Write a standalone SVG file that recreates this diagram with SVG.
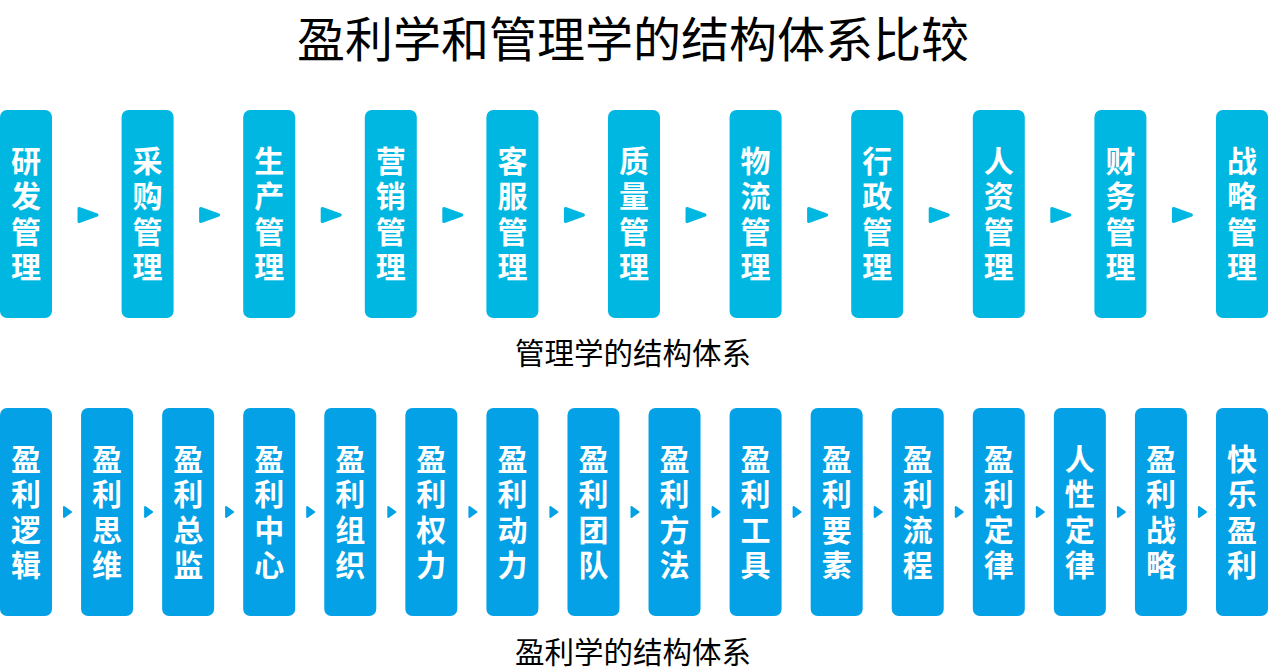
<svg xmlns="http://www.w3.org/2000/svg" width="1269" height="672" viewBox="0 0 1269 672">
<style>
text{font-family:"Noto Sans CJK SC","Noto Sans",sans-serif;}
.title{font-size:48px;fill:#000;text-anchor:middle;}
.cap{font-size:29.5px;fill:#000;text-anchor:middle;}
.bt{font-size:30px;font-weight:bold;fill:#fff;text-anchor:middle;}
.top rect{fill:#00B7E1;}
.bot rect{fill:#04A1E6;}
.arrT{fill:#00B7E1;stroke:#00B7E1;stroke-width:3;stroke-linejoin:round;}
.arrB{fill:#04A1E6;stroke:#04A1E6;stroke-width:2;stroke-linejoin:round;}
</style>
<rect width="1269" height="672" fill="#fff"/>
<text class="title" x="633" y="57">盈利学和管理学的结构体系比较</text>

<g id="connectors">
<g id="top-arrows">
<path class="arrT" d="M79,208.5 L97,215 L79,221.5 Z"/>
<path class="arrT" d="M200.6,208.5 L218.6,215 L200.6,221.5 Z"/>
<path class="arrT" d="M322.2,208.5 L340.2,215 L322.2,221.5 Z"/>
<path class="arrT" d="M443.8,208.5 L461.8,215 L443.8,221.5 Z"/>
<path class="arrT" d="M565.4,208.5 L583.4,215 L565.4,221.5 Z"/>
<path class="arrT" d="M687,208.5 L705,215 L687,221.5 Z"/>
<path class="arrT" d="M808.6,208.5 L826.6,215 L808.6,221.5 Z"/>
<path class="arrT" d="M930.2,208.5 L948.2,215 L930.2,221.5 Z"/>
<path class="arrT" d="M1051.8,208.5 L1069.8,215 L1051.8,221.5 Z"/>
<path class="arrT" d="M1173.4,208.5 L1191.4,215 L1173.4,221.5 Z"/>
</g>
<g id="bottom-arrows">
<path class="arrB" d="M64,507 L71,512 L64,517 Z"/>
<path class="arrB" d="M145.1,507 L152.1,512 L145.1,517 Z"/>
<path class="arrB" d="M226.1,507 L233.1,512 L226.1,517 Z"/>
<path class="arrB" d="M307.2,507 L314.2,512 L307.2,517 Z"/>
<path class="arrB" d="M388.3,507 L395.3,512 L388.3,517 Z"/>
<path class="arrB" d="M469.4,507 L476.4,512 L469.4,517 Z"/>
<path class="arrB" d="M550.4,507 L557.4,512 L550.4,517 Z"/>
<path class="arrB" d="M631.5,507 L638.5,512 L631.5,517 Z"/>
<path class="arrB" d="M712.6,507 L719.6,512 L712.6,517 Z"/>
<path class="arrB" d="M793.6,507 L800.6,512 L793.6,517 Z"/>
<path class="arrB" d="M874.7,507 L881.7,512 L874.7,517 Z"/>
<path class="arrB" d="M955.8,507 L962.8,512 L955.8,517 Z"/>
<path class="arrB" d="M1036.8,507 L1043.8,512 L1036.8,517 Z"/>
<path class="arrB" d="M1117.9,507 L1124.9,512 L1117.9,517 Z"/>
<path class="arrB" d="M1199,507 L1206,512 L1199,517 Z"/>
</g>
</g>

<g class="top">
<g id="t1"><rect x="0" y="110" width="52" height="208" rx="7"/><text class="bt"><tspan x="26" y="171.5">研</tspan><tspan x="26" y="207">发</tspan><tspan x="26" y="242.5">管</tspan><tspan x="26" y="278">理</tspan></text></g>
<g id="t2"><rect x="121.6" y="110" width="52" height="208" rx="7"/><text class="bt"><tspan x="147.6" y="171.5">采</tspan><tspan x="147.6" y="207">购</tspan><tspan x="147.6" y="242.5">管</tspan><tspan x="147.6" y="278">理</tspan></text></g>
<g id="t3"><rect x="243.2" y="110" width="52" height="208" rx="7"/><text class="bt"><tspan x="269.2" y="171.5">生</tspan><tspan x="269.2" y="207">产</tspan><tspan x="269.2" y="242.5">管</tspan><tspan x="269.2" y="278">理</tspan></text></g>
<g id="t4"><rect x="364.8" y="110" width="52" height="208" rx="7"/><text class="bt"><tspan x="390.8" y="171.5">营</tspan><tspan x="390.8" y="207">销</tspan><tspan x="390.8" y="242.5">管</tspan><tspan x="390.8" y="278">理</tspan></text></g>
<g id="t5"><rect x="486.4" y="110" width="52" height="208" rx="7"/><text class="bt"><tspan x="512.4" y="171.5">客</tspan><tspan x="512.4" y="207">服</tspan><tspan x="512.4" y="242.5">管</tspan><tspan x="512.4" y="278">理</tspan></text></g>
<g id="t6"><rect x="608" y="110" width="52" height="208" rx="7"/><text class="bt"><tspan x="634" y="171.5">质</tspan><tspan x="634" y="207">量</tspan><tspan x="634" y="242.5">管</tspan><tspan x="634" y="278">理</tspan></text></g>
<g id="t7"><rect x="729.6" y="110" width="52" height="208" rx="7"/><text class="bt"><tspan x="755.6" y="171.5">物</tspan><tspan x="755.6" y="207">流</tspan><tspan x="755.6" y="242.5">管</tspan><tspan x="755.6" y="278">理</tspan></text></g>
<g id="t8"><rect x="851.2" y="110" width="52" height="208" rx="7"/><text class="bt"><tspan x="877.2" y="171.5">行</tspan><tspan x="877.2" y="207">政</tspan><tspan x="877.2" y="242.5">管</tspan><tspan x="877.2" y="278">理</tspan></text></g>
<g id="t9"><rect x="972.8" y="110" width="52" height="208" rx="7"/><text class="bt"><tspan x="998.8" y="171.5">人</tspan><tspan x="998.8" y="207">资</tspan><tspan x="998.8" y="242.5">管</tspan><tspan x="998.8" y="278">理</tspan></text></g>
<g id="t10"><rect x="1094.4" y="110" width="52" height="208" rx="7"/><text class="bt"><tspan x="1120.4" y="171.5">财</tspan><tspan x="1120.4" y="207">务</tspan><tspan x="1120.4" y="242.5">管</tspan><tspan x="1120.4" y="278">理</tspan></text></g>
<g id="t11"><rect x="1216" y="110" width="52" height="208" rx="7"/><text class="bt"><tspan x="1242" y="171.5">战</tspan><tspan x="1242" y="207">略</tspan><tspan x="1242" y="242.5">管</tspan><tspan x="1242" y="278">理</tspan></text></g>
</g>
<text class="cap" x="633" y="364">管理学的结构体系</text>

<g class="bot">
<g id="b1"><rect x="0" y="408" width="52" height="208" rx="7"/><text class="bt"><tspan x="26" y="469.5">盈</tspan><tspan x="26" y="505">利</tspan><tspan x="26" y="540.5">逻</tspan><tspan x="26" y="576">辑</tspan></text></g>
<g id="b2"><rect x="81.07" y="408" width="52" height="208" rx="7"/><text class="bt"><tspan x="107.07" y="469.5">盈</tspan><tspan x="107.07" y="505">利</tspan><tspan x="107.07" y="540.5">思</tspan><tspan x="107.07" y="576">维</tspan></text></g>
<g id="b3"><rect x="162.13" y="408" width="52" height="208" rx="7"/><text class="bt"><tspan x="188.13" y="469.5">盈</tspan><tspan x="188.13" y="505">利</tspan><tspan x="188.13" y="540.5">总</tspan><tspan x="188.13" y="576">监</tspan></text></g>
<g id="b4"><rect x="243.2" y="408" width="52" height="208" rx="7"/><text class="bt"><tspan x="269.2" y="469.5">盈</tspan><tspan x="269.2" y="505">利</tspan><tspan x="269.2" y="540.5">中</tspan><tspan x="269.2" y="576">心</tspan></text></g>
<g id="b5"><rect x="324.27" y="408" width="52" height="208" rx="7"/><text class="bt"><tspan x="350.27" y="469.5">盈</tspan><tspan x="350.27" y="505">利</tspan><tspan x="350.27" y="540.5">组</tspan><tspan x="350.27" y="576">织</tspan></text></g>
<g id="b6"><rect x="405.33" y="408" width="52" height="208" rx="7"/><text class="bt"><tspan x="431.33" y="469.5">盈</tspan><tspan x="431.33" y="505">利</tspan><tspan x="431.33" y="540.5">权</tspan><tspan x="431.33" y="576">力</tspan></text></g>
<g id="b7"><rect x="486.4" y="408" width="52" height="208" rx="7"/><text class="bt"><tspan x="512.4" y="469.5">盈</tspan><tspan x="512.4" y="505">利</tspan><tspan x="512.4" y="540.5">动</tspan><tspan x="512.4" y="576">力</tspan></text></g>
<g id="b8"><rect x="567.47" y="408" width="52" height="208" rx="7"/><text class="bt"><tspan x="593.47" y="469.5">盈</tspan><tspan x="593.47" y="505">利</tspan><tspan x="593.47" y="540.5">团</tspan><tspan x="593.47" y="576">队</tspan></text></g>
<g id="b9"><rect x="648.53" y="408" width="52" height="208" rx="7"/><text class="bt"><tspan x="674.53" y="469.5">盈</tspan><tspan x="674.53" y="505">利</tspan><tspan x="674.53" y="540.5">方</tspan><tspan x="674.53" y="576">法</tspan></text></g>
<g id="b10"><rect x="729.6" y="408" width="52" height="208" rx="7"/><text class="bt"><tspan x="755.6" y="469.5">盈</tspan><tspan x="755.6" y="505">利</tspan><tspan x="755.6" y="540.5">工</tspan><tspan x="755.6" y="576">具</tspan></text></g>
<g id="b11"><rect x="810.67" y="408" width="52" height="208" rx="7"/><text class="bt"><tspan x="836.67" y="469.5">盈</tspan><tspan x="836.67" y="505">利</tspan><tspan x="836.67" y="540.5">要</tspan><tspan x="836.67" y="576">素</tspan></text></g>
<g id="b12"><rect x="891.73" y="408" width="52" height="208" rx="7"/><text class="bt"><tspan x="917.73" y="469.5">盈</tspan><tspan x="917.73" y="505">利</tspan><tspan x="917.73" y="540.5">流</tspan><tspan x="917.73" y="576">程</tspan></text></g>
<g id="b13"><rect x="972.8" y="408" width="52" height="208" rx="7"/><text class="bt"><tspan x="998.8" y="469.5">盈</tspan><tspan x="998.8" y="505">利</tspan><tspan x="998.8" y="540.5">定</tspan><tspan x="998.8" y="576">律</tspan></text></g>
<g id="b14"><rect x="1053.87" y="408" width="52" height="208" rx="7"/><text class="bt"><tspan x="1079.87" y="469.5">人</tspan><tspan x="1079.87" y="505">性</tspan><tspan x="1079.87" y="540.5">定</tspan><tspan x="1079.87" y="576">律</tspan></text></g>
<g id="b15"><rect x="1134.93" y="408" width="52" height="208" rx="7"/><text class="bt"><tspan x="1160.93" y="469.5">盈</tspan><tspan x="1160.93" y="505">利</tspan><tspan x="1160.93" y="540.5">战</tspan><tspan x="1160.93" y="576">略</tspan></text></g>
<g id="b16"><rect x="1216" y="408" width="52" height="208" rx="7"/><text class="bt"><tspan x="1242" y="469.5">快</tspan><tspan x="1242" y="505">乐</tspan><tspan x="1242" y="540.5">盈</tspan><tspan x="1242" y="576">利</tspan></text></g>
</g>
<text class="cap" x="633" y="663">盈利学的结构体系</text>
</svg>
